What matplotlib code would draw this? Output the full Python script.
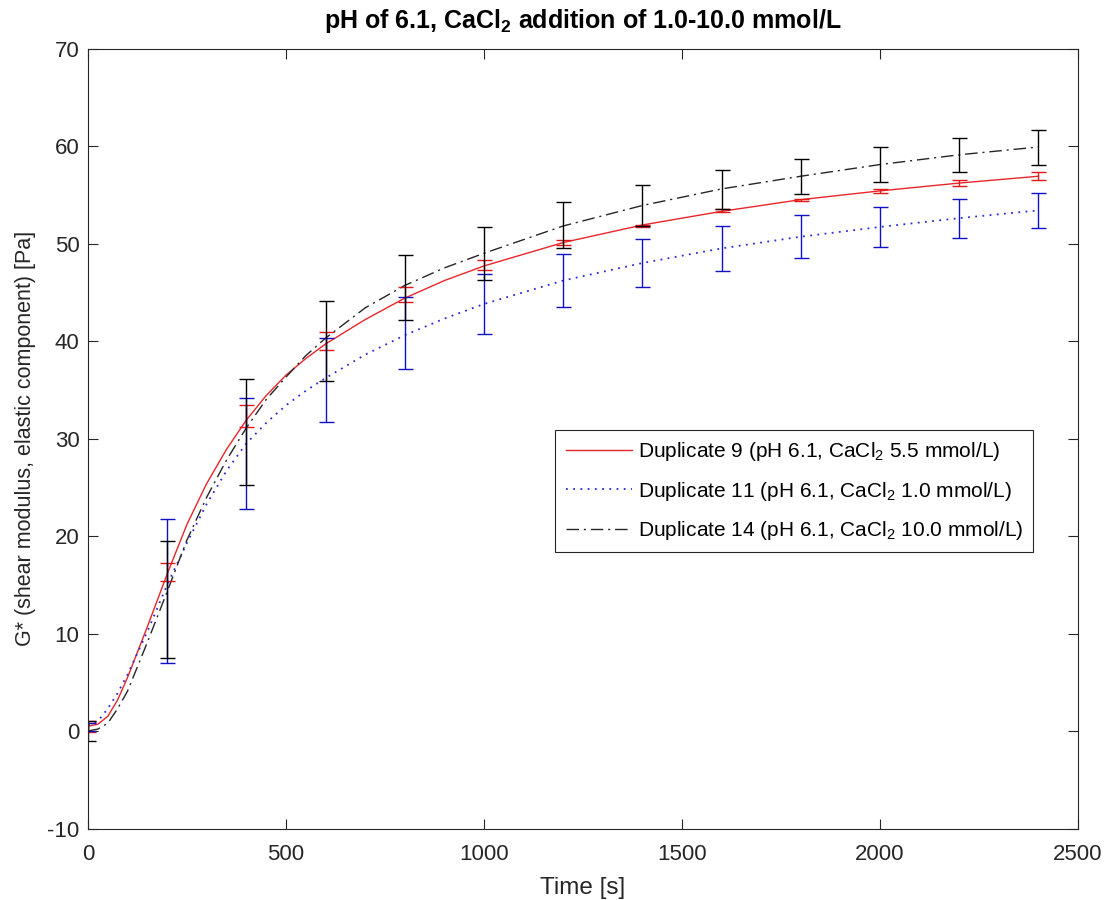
import numpy as np
import matplotlib
matplotlib.use('Agg')
import matplotlib.pyplot as plt

plt.rcParams['font.family'] = ['Liberation Sans', 'DejaVu Sans']
plt.rcParams['mathtext.fontset'] = 'custom'
plt.rcParams['mathtext.rm'] = 'Liberation Sans'
plt.rcParams['mathtext.default'] = 'regular'
plt.rcParams['axes.unicode_minus'] = False

# fitted curves
t_red = [0, 25, 50, 75, 100, 150, 200, 250, 300, 350, 400, 450, 500, 550, 600, 700, 800, 900,
         1000, 1200, 1400, 1600, 1800, 2000, 2200, 2400]
g_red = [0.5, 0.7, 1.5, 3.2, 5.5, 10.7, 16.1, 21.2, 25.4, 28.9, 31.9, 34.4, 36.5, 38.2, 39.7, 42.2, 44.4, 46.2,
         47.7, 50.1, 51.9, 53.3, 54.5, 55.4, 56.2, 56.9]

t_blue = [0, 25, 50, 75, 100, 150, 200, 250, 300, 350, 400, 450, 500, 550, 600, 700, 800, 900,
          1000, 1200, 1400, 1600, 1800, 2000, 2200, 2400]
g_blue = [0.6, 1.0, 2.3, 3.9, 5.8, 10.2, 15.0, 19.3, 23.3, 26.7, 29.5, 31.6, 33.4, 34.9, 36.2, 38.6, 40.6, 42.3,
          43.8, 46.2, 48.0, 49.5, 50.7, 51.7, 52.6, 53.4]

t_black = [0, 25, 50, 75, 100, 150, 200, 250, 300, 350, 400, 450, 500, 550, 600, 700, 800, 900,
           1000, 1200, 1400, 1600, 1800, 2000, 2200, 2400]
g_black = [0.0, 0.2, 0.8, 2.3, 4.1, 9.1, 14.3, 19.6, 24.0, 27.8, 31.1, 34.0, 36.3, 38.5, 40.3, 43.4, 45.7, 47.5,
           49.0, 51.8, 53.9, 55.6, 56.9, 58.1, 59.1, 59.9]

# measured points with standard deviation
t_err = [0, 200, 400, 600, 800, 1000, 1200, 1400, 1600, 1800, 2000, 2200, 2400]
m_red = [0.5, 16.3, 32.3, 40.0, 44.8, 47.8, 50.1, 51.8, 53.4, 54.5, 55.4, 56.2, 56.9]
e_red = [0.55, 0.9, 1.1, 0.95, 0.75, 0.55, 0.3, 0.1, 0.15, 0.1, 0.2, 0.3, 0.4]
m_blue = [0.45, 14.35, 28.5, 36.0, 40.8, 43.8, 46.2, 48.0, 49.5, 50.7, 51.7, 52.6, 53.4]
e_blue = [0.4, 7.35, 5.7, 4.3, 3.7, 3.1, 2.7, 2.5, 2.3, 2.2, 2.05, 2.0, 1.8]
m_black = [0.0, 13.5, 30.65, 40.0, 45.5, 49.0, 51.9, 53.9, 55.5, 56.9, 58.1, 59.05, 59.85]
e_black = [1.0, 6.0, 5.45, 4.1, 3.3, 2.7, 2.4, 2.1, 2.0, 1.8, 1.8, 1.75, 1.75]

labels = [r'Duplicate 9 (pH 6.1, CaCl$_2$ 5.5 mmol/L)',
          r'Duplicate 11 (pH 6.1, CaCl$_2$ 1.0 mmol/L)',
          r'Duplicate 14 (pH 6.1, CaCl$_2$ 10.0 mmol/L)']

fig = plt.figure(figsize=(11.05, 9.0), dpi=100)
ax = fig.add_axes([0.0796, 0.0794, 0.896, 0.8667])

red = '#e8262a'
blue = '#2a2ad8'
black = '#262626'

l1, = ax.plot(t_red, g_red, color=red, lw=1.0, label=labels[0])
l2, = ax.plot(t_blue, g_blue, color=blue, lw=1.3, linestyle=(0, (1, 3)), label=labels[1])
l3, = ax.plot(t_black, g_black, color=black, lw=1.0, linestyle=(0, (9, 3.5, 1.5, 3.5)), label=labels[2])

ax.errorbar(t_err, m_red, yerr=e_red, fmt='none', ecolor='#e01818', elinewidth=1.0, capsize=5.4, capthick=1.0)
ax.errorbar(t_err, m_blue, yerr=e_blue, fmt='none', ecolor='#1010c8', elinewidth=1.0, capsize=5.4, capthick=1.0)
ax.errorbar(t_err, m_black, yerr=e_black, fmt='none', ecolor='black', elinewidth=1.0, capsize=5.4, capthick=1.0)

ax.set_xlim(0, 2500)
ax.set_ylim(-10, 70)
ax.set_xticks(np.arange(0, 2501, 500))
ax.set_yticks(np.arange(-10, 71, 10))
ax.tick_params(direction='in', length=7, width=0.8, top=True, right=True,
               labelsize=16, colors='#262626', pad=6)
ax.tick_params(axis='x', pad=11)
for s in ax.spines.values():
    s.set_color('#262626')
    s.set_linewidth(0.8)

ax.set_xlabel('Time [s]', fontsize=17.5, color='#262626', labelpad=9)
ax.set_ylabel('G* (shear modulus, elastic component) [Pa]', fontsize=15.5, color='#262626', labelpad=8)
ax.set_title(r'pH of 6.1, CaCl$_2$ addition of 1.0-10.0 mmol/L', fontsize=18, fontweight='bold', pad=15)

leg = ax.legend(handles=[l1, l2, l3], loc='upper right', bbox_to_anchor=(0.955, 0.511),
                fontsize=15, fancybox=False, edgecolor='#262626', framealpha=1,
                handlelength=3.2, handletextpad=0.25, borderpad=0.5, labelspacing=0.78,
                borderaxespad=0)
leg.get_frame().set_linewidth(0.8)

fig.savefig('out.png', dpi=100)
